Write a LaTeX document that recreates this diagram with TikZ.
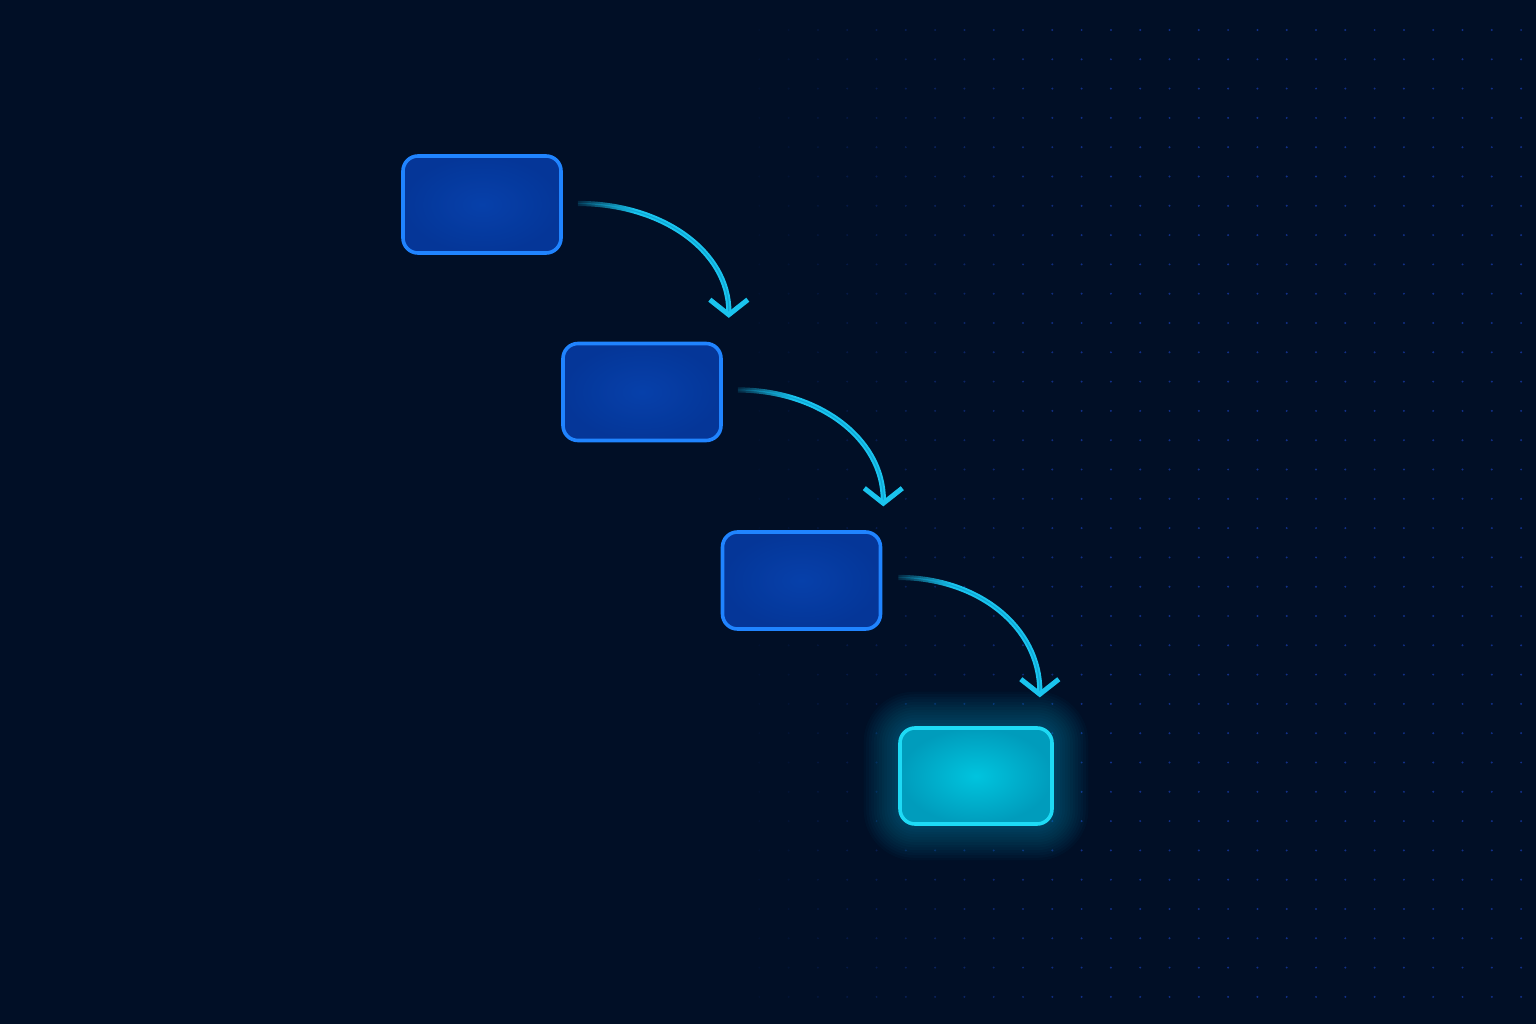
\documentclass[tikz,border=0pt]{standalone}
\usetikzlibrary{calc,fadings}

\definecolor{bgnavy}{RGB}{1,15,38}
\definecolor{dotblue}{RGB}{30,70,200}
\definecolor{boxfill}{RGB}{5,54,152}
\definecolor{boxlight}{RGB}{6,64,170}
\definecolor{boxedge}{RGB}{32,132,255}
\definecolor{endfill}{RGB}{0,156,188}
\definecolor{endlight}{RGB}{0,196,222}
\definecolor{endedge}{RGB}{30,218,245}
\definecolor{glowcyan}{RGB}{0,190,235}
\definecolor{arrowcyan}{RGB}{26,196,238}
\definecolor{arrowcore}{RGB}{14,168,214}

% fading for the start of each curved connector
\pgfdeclarehorizontalshading{shaftshade}{100bp}{color(0bp)=(black); color(25bp)=(black!88);
    color(44bp)=(white); color(100bp)=(white)}
\pgfdeclarefading{shaftfade}{\pgfuseshading{shaftshade}}

\begin{document}
\begin{tikzpicture}[x=1pt,y=-1pt,
    stepbox/.style={draw=boxedge, line width=3.6pt, rounded corners=15pt,
        shading=radial, inner color=boxlight, outer color=boxfill,
        minimum width=158pt, minimum height=97pt, inner sep=0pt},
    endbox/.style={stepbox, draw=endedge, inner color=endlight, outer color=endfill,
        minimum width=152pt, minimum height=96pt},
    shaft/.style={draw=arrowcyan, line width=2pt, double=arrowcore,
        double distance=1.2pt, path fading=shaftfade},
    chevron/.style={draw=arrowcyan, line width=5pt, line join=miter}]

    % --- Background ---
    \fill[bgnavy] (0,0) rectangle (1536,1024);
    \useasboundingbox (0,0) rectangle (1536,1024);

    % --- Dot grid (fades out to the left) ---
    \foreach \i in {0,...,27}{
        \pgfmathsetmacro\dotop{min(0.6,\i/20)}
        \foreach \j in {0,...,33}
            \fill[dotblue, opacity=\dotop] (730+29.3*\i, 30+29.3*\j) circle (1.1);
    }

    % --- Glow round the last box ---
    \foreach \k in {1,...,14}
        \fill[glowcyan, opacity=0.028, rounded corners=16+2.5*\k]
            (976-76-2.6*\k, 776-48-2.6*\k) rectangle (976+76+2.6*\k, 776+48+2.6*\k);

    % --- Boxes ---
    \node[stepbox] (b1) at (482,204.5) {};
    \node[stepbox] (b2) at (642,392) {};
    \node[stepbox] (b3) at (801.5,580.5) {};
    \node[endbox]  (b4) at (976,776) {};

    % --- Connector ends ---
    \coordinate (s1) at ($(b1.east)+(15,-1)$);
    \coordinate (s2) at ($(b2.east)+(15,-2)$);
    \coordinate (s3) at ($(b3.east)+(16,-3)$);
    \coordinate (t1) at ($(b2.north east)+(6,-24)$);
    \coordinate (t2) at ($(b3.north east)+(1,-24)$);
    \coordinate (t3) at ($(b4.north east)+(-14,-29)$);

    % --- Curved connectors ---
    \draw[shaft] (s1) .. controls ($(s1)+(85,0)$) and ($(t1)+(0,-66)$) .. ($(t1)+(0,-6)$);
    \draw[shaft] (s2) .. controls ($(s2)+(80,0)$) and ($(t2)+(0,-68)$) .. ($(t2)+(0,-6)$);
    \draw[shaft] (s3) .. controls ($(s3)+(80,0)$) and ($(t3)+(0,-70)$) .. ($(t3)+(0,-6)$);

    % --- Arrowheads ---
    \draw[chevron] ($(t1)+(-19,-18)$) -- ($(t1)+(0,-3)$) -- ($(t1)+(19,-18)$);
    \draw[chevron] ($(t2)+(-19,-18)$) -- ($(t2)+(0,-3)$) -- ($(t2)+(19,-18)$);
    \draw[chevron] ($(t3)+(-19,-18)$) -- ($(t3)+(0,-3)$) -- ($(t3)+(19,-18)$);

\end{tikzpicture}
\end{document}
